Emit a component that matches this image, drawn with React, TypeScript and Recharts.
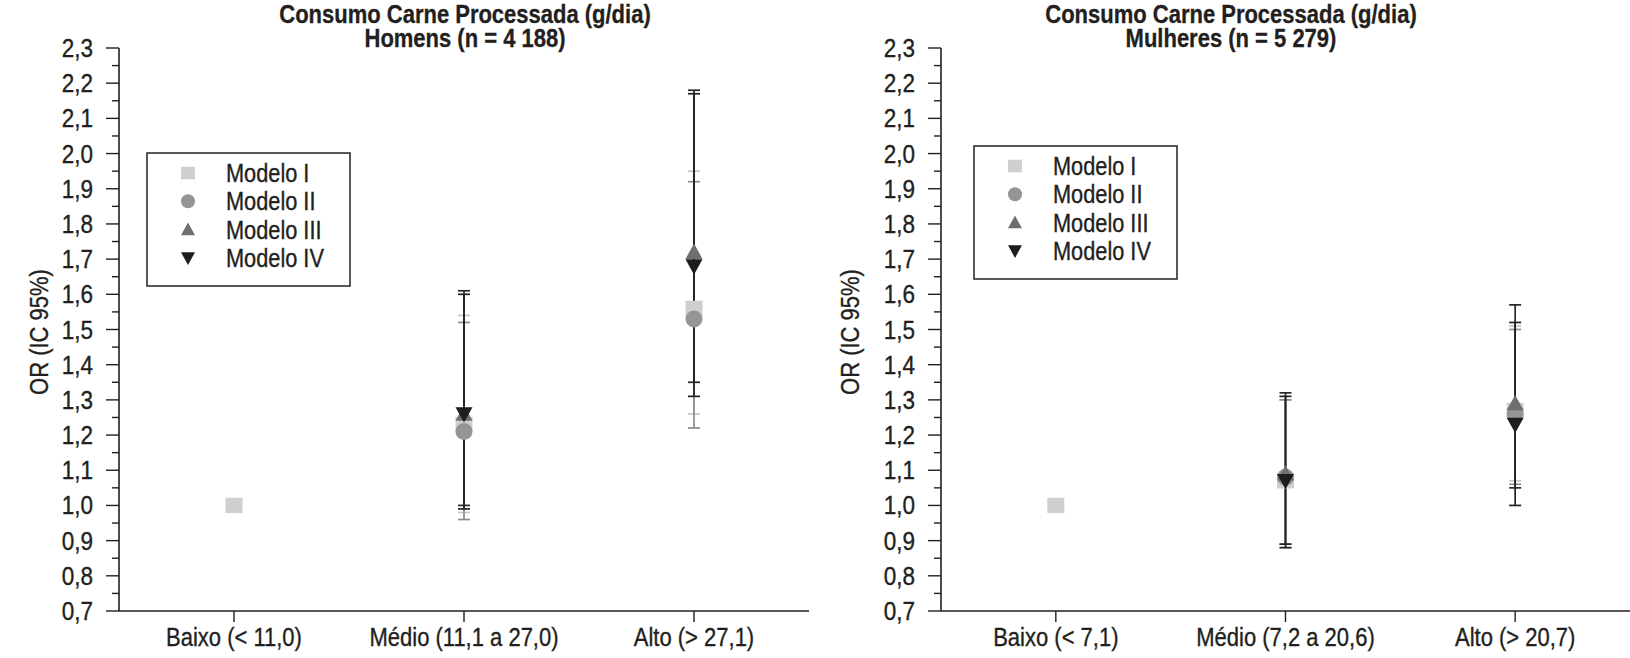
import { ScatterChart, Scatter, XAxis, YAxis, ErrorBar } from 'recharts'

const FONT = "'Liberation Sans', Arial, Helvetica, sans-serif"
const INK = '#231f20'

const MODELS = ['Modelo I', 'Modelo II', 'Modelo III', 'Modelo IV']
const MODEL_FILL = ['#cfcfcf', '#959595', '#6f6f6f', '#1f1c1d']
const BAR_STROKE = ['#c6c6c6', '#8c8c8c', '#2b2829', '#231f20']

const CAT_HOMENS = ['Baixo (< 11,0)', 'Médio (11,1 a 27,0)', 'Alto (> 27,1)']
const CAT_MULHERES = ['Baixo (< 7,1)', 'Médio (7,2 a 20,6)', 'Alto (> 20,7)']

const Y_TICKS = [
  0.7, 0.75, 0.8, 0.85, 0.9, 0.95, 1.0, 1.05, 1.1, 1.15, 1.2, 1.25, 1.3, 1.35, 1.4, 1.45, 1.5,
  1.55, 1.6, 1.65, 1.7, 1.75, 1.8, 1.85, 1.9, 1.95, 2.0, 2.05, 2.1, 2.15, 2.2, 2.25, 2.3,
]

// Homens (n = 4 188): OR and 95% CI per category
const H_OR_I = [1.0, 1.23, 1.56]
const H_LO_I = [null, 0.98, 1.26]
const H_HI_I = [null, 1.54, 1.95]
const H_OR_II = [null, 1.21, 1.53]
const H_LO_II = [null, 0.96, 1.22]
const H_HI_II = [null, 1.52, 1.92]
const H_OR_III = [null, 1.26, 1.72]
const H_LO_III = [null, 1.0, 1.35]
const H_HI_III = [null, 1.61, 2.18]
const H_OR_IV = [null, 1.26, 1.68]
const H_LO_IV = [null, 0.99, 1.31]
const H_HI_IV = [null, 1.6, 2.17]

// Mulheres (n = 5 279)
const M_OR_I = [1.0, 1.07, 1.27]
const M_LO_I = [null, 0.88, 1.07]
const M_HI_I = [null, 1.3, 1.51]
const M_OR_II = [null, 1.08, 1.26]
const M_LO_II = [null, 0.89, 1.06]
const M_HI_II = [null, 1.3, 1.5]
const M_OR_III = [null, 1.09, 1.29]
const M_LO_III = [null, 0.89, 1.05]
const M_HI_III = [null, 1.32, 1.57]
const M_OR_IV = [null, 1.07, 1.23]
const M_LO_IV = [null, 0.88, 1.0]
const M_HI_IV = [null, 1.31, 1.52]

type Row = { x: number; y: number; err: [number, number] }

function rows(or: (number | null)[], lo: (number | null)[], hi: (number | null)[]): Row[] {
  const out: Row[] = []
  or.forEach((v, i) => {
    if (v == null) return
    const l = lo[i]
    const h = hi[i]
    out.push({ x: i + 1, y: v, err: l == null || h == null ? [0, 0] : [v - l, h - v] })
  })
  return out
}

const HOMENS = [
  rows(H_OR_I, H_LO_I, H_HI_I),
  rows(H_OR_II, H_LO_II, H_HI_II),
  rows(H_OR_III, H_LO_III, H_HI_III),
  rows(H_OR_IV, H_LO_IV, H_HI_IV),
]
const MULHERES = [
  rows(M_OR_I, M_LO_I, M_HI_I),
  rows(M_OR_II, M_LO_II, M_HI_II),
  rows(M_OR_III, M_LO_III, M_HI_III),
  rows(M_OR_IV, M_LO_IV, M_HI_IV),
]

// condensed look: regular sans squeezed horizontally
function NText({ x, y, anchor = 'start', size = 25, sx = 0.87, bold = false, rotate = 0, children }: any) {
  return (
    <text
      transform={`translate(${x} ${y}) rotate(${rotate}) scale(${sx} 1)`}
      textAnchor={anchor}
      fontFamily={FONT}
      fontSize={size}
      fontWeight={bold ? 'bold' : 'normal'}
      fill={INK}
      stroke={INK}
      strokeWidth={bold ? 0.3 : 0.35}
    >
      {children}
    </text>
  )
}

function markerPath(kind: number, cx: number, cy: number, s: number) {
  const fill = MODEL_FILL[kind]
  if (kind === 0) return <rect x={cx - s} y={cy - s * 0.9} width={s * 2} height={s * 1.8} fill={fill} />
  if (kind === 1) return <circle cx={cx} cy={cy} r={s} fill={fill} />
  if (kind === 2)
    return <polygon points={`${cx - s},${cy + s * 0.8} ${cx + s},${cy + s * 0.8} ${cx},${cy - s}`} fill={fill} />
  return <polygon points={`${cx - s},${cy - s * 0.8} ${cx + s},${cy - s * 0.8} ${cx},${cy + s}`} fill={fill} />
}

function YTick(props: any) {
  const { x, y, payload } = props
  const v = payload.value as number
  const major = Math.round(v * 100) % 10 === 0
  return (
    <g>
      <line x1={x - (major ? 13 : 7)} y1={y} x2={x} y2={y} stroke={INK} strokeWidth={1.4} />
      {major && (
        <NText x={x - 26} y={y + 9} anchor="end" sx={0.9}>
          {v.toFixed(1).replace('.', ',')}
        </NText>
      )}
    </g>
  )
}

function XTick(props: any) {
  const { x, y, payload, cats } = props
  return (
    <g>
      <line x1={x} y1={y} x2={x} y2={y + 11} stroke={INK} strokeWidth={1.4} />
      <NText x={x} y={y + 35} anchor="middle" sx={0.88}>
        {cats[payload.value - 1]}
      </NText>
    </g>
  )
}

function LegendBox({ left, top }: { left: number; top: number }) {
  return (
    <g transform={`translate(${left} ${top})`}>
      <rect x={0} y={0} width={203} height={133} fill="#fff" stroke={INK} strokeWidth={1.5} />
      {MODELS.map((m, i) => (
        <g key={m}>
          {markerPath(i, 41, 20 + i * 28.3, 7)}
          <NText x={79} y={29 + i * 28.3}>
            {m}
          </NText>
        </g>
      ))}
    </g>
  )
}

interface PanelProps {
  left: number
  width: number
  rightMargin: number
  cats: string[]
  series: Row[][]
}

function Panel({ left, width, rightMargin, cats, series }: PanelProps) {
  return (
    <div style={{ position: 'absolute', left, top: 0 }}>
      <ScatterChart width={width} height={658} margin={{ top: 48, right: rightMargin, bottom: 0, left: 0 }}>
        <XAxis
          type="number"
          dataKey="x"
          domain={[0.5, 3.5]}
          ticks={[1, 2, 3]}
          interval={0}
          height={47}
          tickSize={0}
          tickMargin={0}
          tick={(p: any) => <XTick {...p} cats={cats} />}
          axisLine={{ stroke: INK, strokeWidth: 1.6 }}
        />
        <YAxis
          type="number"
          dataKey="y"
          domain={[0.7, 2.3]}
          ticks={Y_TICKS}
          interval={0}
          width={119}
          tickSize={0}
          tickMargin={0}
          tick={(p: any) => <YTick {...p} />}
          axisLine={{ stroke: INK, strokeWidth: 1.6 }}
        />
        {series.map((data, i) => (
          <Scatter
            key={MODELS[i]}
            name={MODELS[i]}
            data={data}
            isAnimationActive={false}
            shape={(p: any) => markerPath(i, p.cx, p.cy, 8.5)}
          >
            <ErrorBar dataKey="err" direction="y" width={6} stroke={BAR_STROKE[i]} strokeWidth={1.7} />
          </Scatter>
        ))}
      </ScatterChart>
    </div>
  )
}

export default function App() {
  return (
    <div style={{ position: 'absolute', left: 0, top: 0, width: 1630, height: 658, background: '#fff' }}>
      <Panel left={0} width={822} rightMargin={13} cats={CAT_HOMENS} series={HOMENS} />
      <Panel left={822} width={808} rightMargin={0} cats={CAT_MULHERES} series={MULHERES} />
      <svg width={1630} height={658} style={{ position: 'absolute', left: 0, top: 0, pointerEvents: 'none' }}>
        <NText x={465} y={23} anchor="middle" size={25} sx={0.88} bold>
          Consumo Carne Processada (g/dia)
        </NText>
        <NText x={465} y={47} anchor="middle" size={25} sx={0.88} bold>
          Homens (n = 4 188)
        </NText>
        <NText x={1231} y={23} anchor="middle" size={25} sx={0.88} bold>
          Consumo Carne Processada (g/dia)
        </NText>
        <NText x={1231} y={47} anchor="middle" size={25} sx={0.88} bold>
          Mulheres (n = 5 279)
        </NText>
        <NText x={48} y={332} anchor="middle" rotate={-90} sx={0.88}>
          OR (IC 95%)
        </NText>
        <NText x={859} y={332} anchor="middle" rotate={-90} sx={0.88}>
          OR (IC 95%)
        </NText>
        <LegendBox left={147} top={153} />
        <LegendBox left={974} top={146} />
      </svg>
    </div>
  )
}
